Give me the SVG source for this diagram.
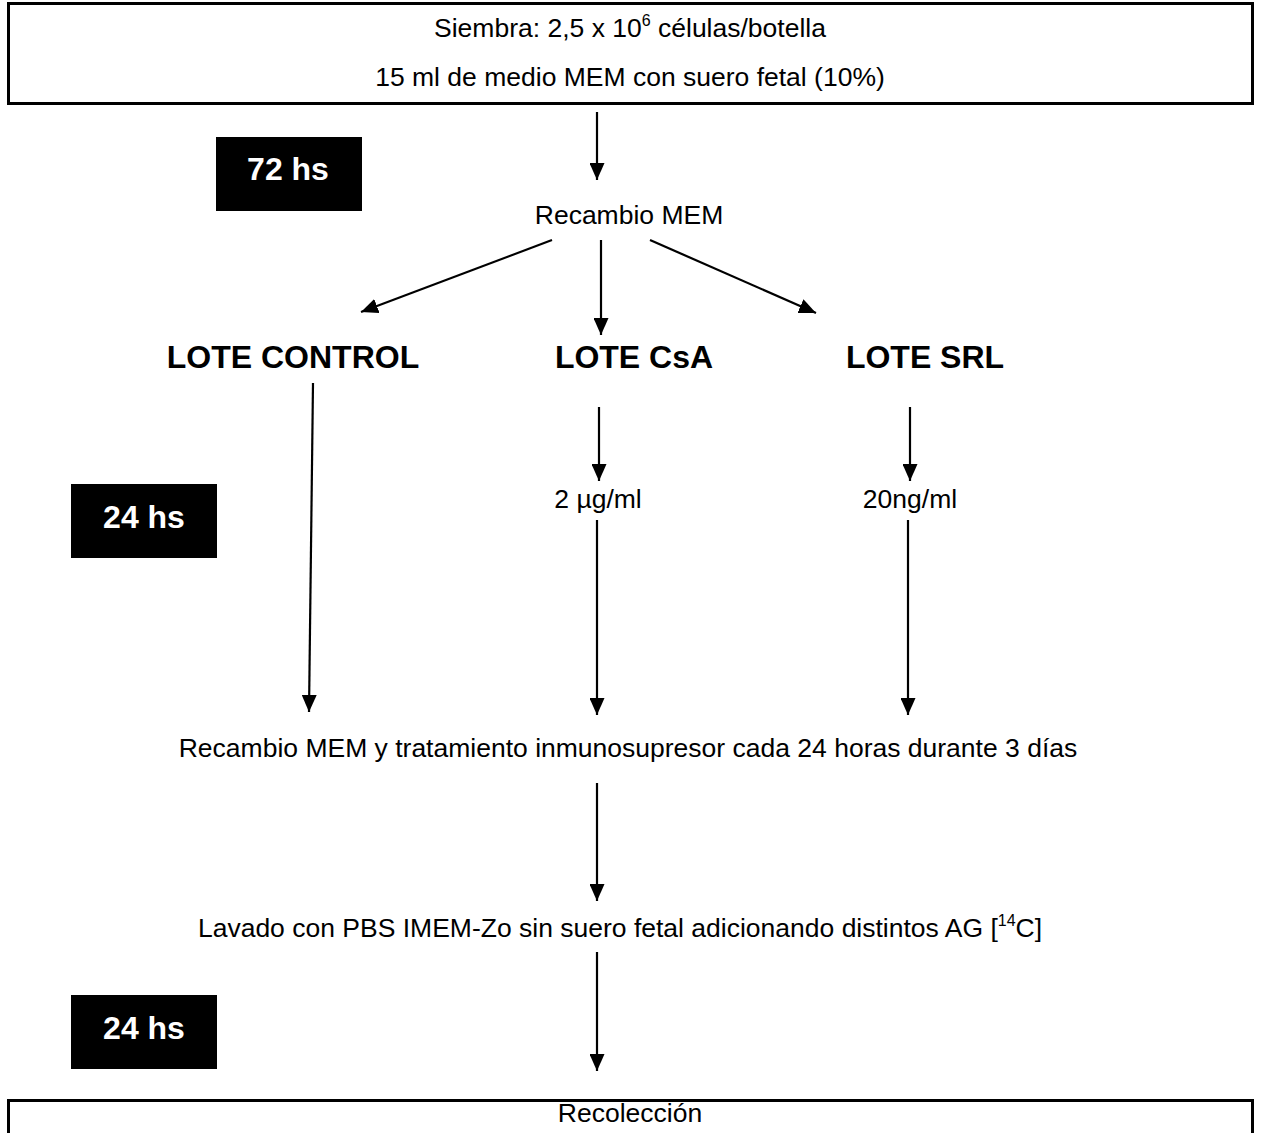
<svg xmlns="http://www.w3.org/2000/svg" width="1261" height="1133" viewBox="0 0 1261 1133">
<defs>
<marker id="ah" markerWidth="17" markerHeight="15" viewBox="0 0 17 15" refX="17" refY="7.5" orient="auto" markerUnits="userSpaceOnUse">
<path d="M0,0 L17,7.5 L0,15 Z" fill="#000"/>
</marker>
<style>
.t{font-family:"Liberation Sans",Arial,sans-serif;font-size:26.5px;fill:#000;text-anchor:middle}
.b{font-family:"Liberation Sans",Arial,sans-serif;font-size:32px;font-weight:bold;fill:#000;text-anchor:middle}
.w{font-family:"Liberation Sans",Arial,sans-serif;font-size:32px;font-weight:bold;fill:#fff;text-anchor:middle}
.box{fill:#fff;stroke:#000;stroke-width:3}
.blk{fill:#000}
.c{stroke:#000;stroke-width:2.2;fill:none;marker-end:url(#ah)}
</style>
</defs>
<rect width="1261" height="1133" fill="#fff"/>
<g id="siembra">
<rect class="box" x="8.5" y="3.5" width="1244" height="100"/>
<text class="t" x="630" y="37">Siembra: 2,5 x 10<tspan font-size="16" dy="-11">6</tspan><tspan dy="11"> células/botella</tspan></text>
<text class="t" x="630" y="86">15 ml de medio MEM con suero fetal (10%)</text>
</g>
<g id="t72">
<rect class="blk" x="216" y="137" width="146" height="74"/>
<text class="w" x="288" y="180">72 hs</text>
</g>
<g id="recambio1"><text class="t" x="629" y="224">Recambio MEM</text></g>
<g id="control"><text class="b" x="293" y="368">LOTE CONTROL</text></g>
<g id="csa"><text class="b" x="634" y="368">LOTE CsA</text></g>
<g id="srl"><text class="b" x="925" y="368">LOTE SRL</text></g>
<g id="dose_csa"><text class="t" x="598" y="508">2 µg/ml</text></g>
<g id="dose_srl"><text class="t" x="910" y="508">20ng/ml</text></g>
<g id="t24a">
<rect class="blk" x="71" y="484" width="146" height="74"/>
<text class="w" x="144" y="528">24 hs</text>
</g>
<g id="tratamiento"><text class="t" x="628" y="757">Recambio MEM y tratamiento inmunosupresor cada 24 horas durante 3 días</text></g>
<g id="lavado"><text class="t" x="620" y="937">Lavado con PBS IMEM-Zo sin suero fetal adicionando distintos AG [<tspan font-size="16" dy="-11">14</tspan><tspan dy="11">C]</tspan></text></g>
<g id="t24b">
<rect class="blk" x="71" y="995" width="146" height="74"/>
<text class="w" x="144" y="1039">24 hs</text>
</g>
<g id="recoleccion">
<rect class="box" x="8.5" y="1100.5" width="1244" height="60"/>
<text class="t" x="630" y="1122">Recolección</text>
</g>
<g id="connectors">
<line class="c" x1="597" y1="112" x2="597" y2="180"/>
<line class="c" x1="552" y1="240" x2="361" y2="312"/>
<line class="c" x1="601" y1="240" x2="601" y2="335"/>
<line class="c" x1="650" y1="240" x2="816" y2="313"/>
<line class="c" x1="313" y1="383" x2="309" y2="712"/>
<line class="c" x1="599" y1="407" x2="599" y2="481"/>
<line class="c" x1="910" y1="407" x2="910" y2="481"/>
<line class="c" x1="597" y1="520" x2="597" y2="715"/>
<line class="c" x1="908" y1="520" x2="908" y2="715"/>
<line class="c" x1="597" y1="783" x2="597" y2="901"/>
<line class="c" x1="597" y1="952" x2="597" y2="1071"/>
</g>
</svg>
